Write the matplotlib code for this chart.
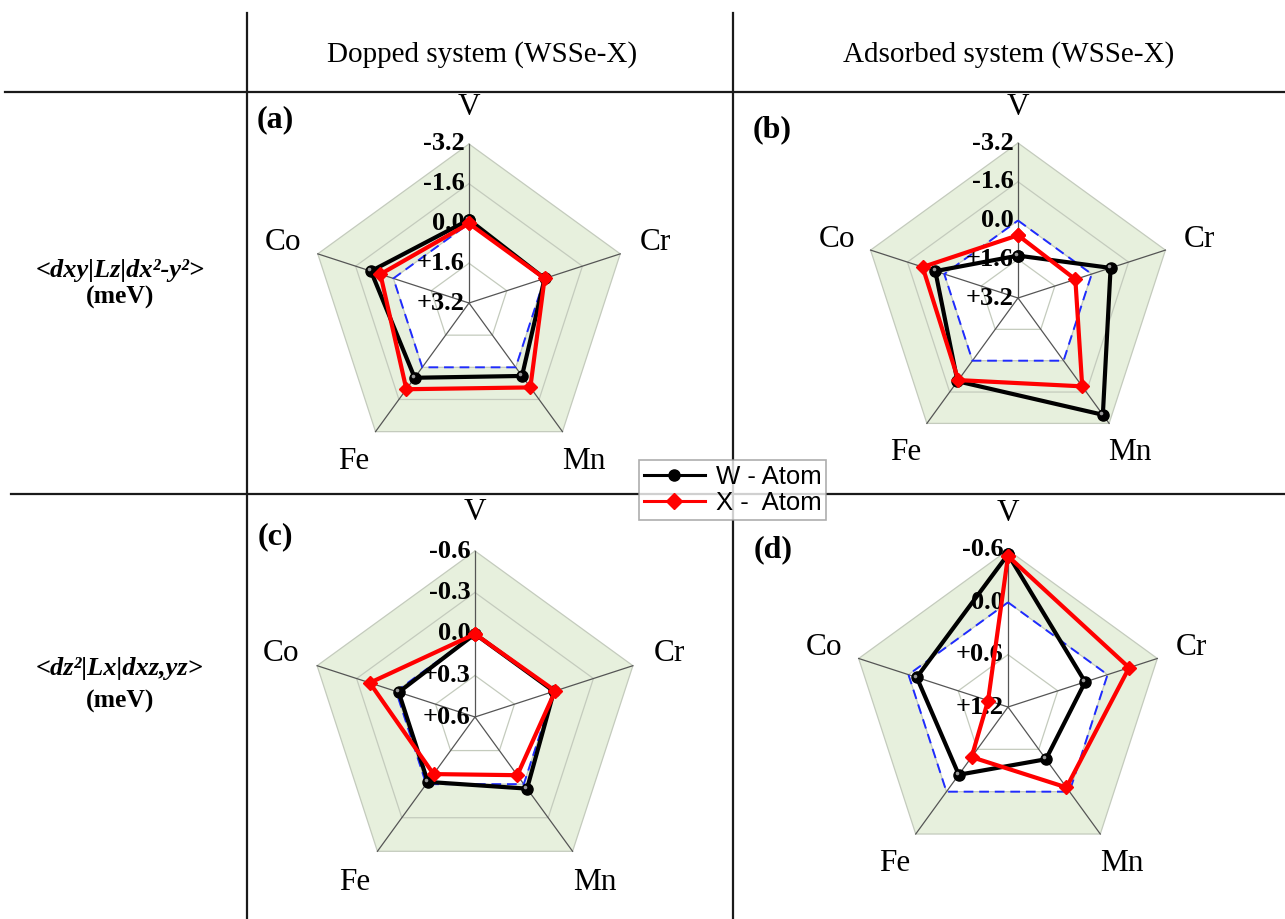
import numpy as np
import matplotlib
matplotlib.use('Agg')
import matplotlib.pyplot as plt
from matplotlib.lines import Line2D
from matplotlib.transforms import ScaledTranslation

plt.rcParams['font.family'] = 'Liberation Serif'

elements = ['V', 'Cr', 'Mn', 'Fe', 'Co']

# <dxy|Lz|dx2-y2> matrix elements (meV)
dop_lz_w = [-0.15, 0.0, -0.43, -0.52, -0.95]
dop_lz_x = [0.0, 0.0, -1.0, -1.09, -0.55]
ads_lz_w = [1.45, -0.82, -2.76, -1.05, -0.39]
ads_lz_x = [0.61, 0.71, -1.31, -0.99, -0.94]

# <dz2|Lx|dxz,yz> matrix elements (meV)
dop_lx_w = [0.0, 0.0, -0.04, 0.02, 0.02]
dop_lx_x = [0.0, -0.01, 0.08, 0.09, -0.20]
ads_lx_w = [-0.55, 0.27, 0.46, 0.24, 0.10]
ads_lx_x = [-0.53, -0.26, 0.06, 0.49, 0.96]

# radial levels, outermost first (axis runs from negative outside to positive at centre)
lz_levels = [-3.2, -1.6, 0.0, 1.6, 3.2]
lx_levels_dop = [-0.6, -0.3, 0.0, 0.3, 0.6]
lx_levels_ads = [-0.6, 0.0, 0.6, 1.2]

W_PX, H_PX = 1285, 919
fig = plt.figure(figsize=(W_PX / 100, H_PX / 100), dpi=100)

GREEN = '#e7f0dd'
RING = '#c4cbbd'


def fmt(v):
    if abs(v) < 1e-9:
        return '0.0'
    return f'{v:+.1f}'


def radar(cx, cy, R, w_vals, x_vals, levels, tag, tag_xy):
    # square polar axes centred on (cx, cy) in pixels, radius R
    ax = fig.add_axes([(cx - R) / W_PX, (H_PX - cy - R) / H_PX, 2 * R / W_PX, 2 * R / H_PX],
                      projection='polar')
    ax.set_theta_zero_location('N')
    ax.set_theta_direction(-1)
    ax.set_ylim(levels[-1], levels[0])
    ax.axis('off')

    th = np.deg2rad(np.arange(len(elements)) * 72.0)
    thc = np.append(th, th[0])
    outer, centre = levels[0], levels[-1]

    # shaded band between the zero ring and the outer ring
    ax.fill(thc, [outer] * len(thc), color=GREEN, lw=0, zorder=0)
    ax.fill(thc, [0.0] * len(thc), color='white', lw=0, zorder=0.5)
    for lv in levels[:-1]:
        ax.plot(thc, [lv] * len(thc), color=RING, lw=0.9, zorder=1, clip_on=False)
    for t in th:
        ax.plot([t, t], [centre, outer], color='#555555', lw=0.9, zorder=1, clip_on=False)
    ax.plot(thc, [0.0] * len(thc), color='#1f2bff', lw=1.4, ls=(0, (5, 3)), zorder=2)

    # radial tick labels along the V spoke
    off = ScaledTranslation(-3 / 72, 0, fig.dpi_scale_trans)
    for lv in levels:
        ax.text(0, lv, fmt(lv), ha='right', va='center', fontsize=19, fontweight='bold',
                transform=ax.transData + off, zorder=2.5)

    wc = list(w_vals) + [w_vals[0]]
    xc = list(x_vals) + [x_vals[0]]
    ax.plot(thc, wc, color='black', lw=3, marker='o', ms=8, zorder=3, clip_on=False)
    # small highlight so the W markers read as spheres
    shine = ScaledTranslation(-1.3 / 72, 1.3 / 72, fig.dpi_scale_trans)
    ax.plot(th, w_vals, ls='none', marker='o', ms=2.6, color='#9a9a9a', mew=0,
            transform=ax.transData + shine, zorder=3.1, clip_on=False)
    ax.plot(thc, xc, color='#ff0000', lw=3, marker='D', ms=7.5, zorder=4, clip_on=False)

    # element names outside the pentagon
    r_lab = outer - 0.23 * (centre - outer)
    for t, name in zip(th, elements):
        ax.text(t, r_lab, name, ha='center', va='center', fontsize=22.5)

    fig.text(tag_xy[0] / W_PX, 1 - tag_xy[1] / H_PX, tag, fontsize=23, fontweight='bold',
             ha='center', va='center')
    return ax


radar(469, 303, 159, dop_lz_w, dop_lz_x, lz_levels, '(a)', (275, 120))
radar(1018, 298, 155, ads_lz_w, ads_lz_x, lz_levels, '(b)', (772, 130))
radar(475, 717, 166, dop_lx_w, dop_lx_x, lx_levels_dop, '(c)', (275, 537))
radar(1008, 707, 157, ads_lx_w, ads_lx_x, lx_levels_ads, '(d)', (773, 550))

# table rules
def rule(x0, y0, x1, y1):
    fig.add_artist(Line2D([x0 / W_PX, x1 / W_PX], [1 - y0 / H_PX, 1 - y1 / H_PX],
                          transform=fig.transFigure, color='#1a1a1a', lw=1.6))

rule(247, 13, 247, H_PX)
rule(733, 13, 733, H_PX)
rule(5, 92, W_PX, 92)
rule(11, 494, W_PX, 494)

# column and row headers
fig.text(482 / W_PX, 1 - 55 / H_PX, 'Dopped system (WSSe-X)', fontsize=21, ha='center', va='center')
fig.text(1009 / W_PX, 1 - 55 / H_PX, 'Adsorbed system (WSSe-X)', fontsize=21, ha='center', va='center')
fig.text(120 / W_PX, 1 - 270 / H_PX, '<dxy|Lz|dx²-y²>', fontsize=19, fontweight='bold',
         fontstyle='italic', ha='center', va='center')
fig.text(120 / W_PX, 1 - 297 / H_PX, '(meV)', fontsize=18.5, fontweight='bold', ha='center', va='center')
fig.text(120 / W_PX, 1 - 669 / H_PX, '<dz²|Lx|dxz,yz>', fontsize=19, fontweight='bold',
         fontstyle='italic', ha='center', va='center')
fig.text(120 / W_PX, 1 - 701 / H_PX, '(meV)', fontsize=18.5, fontweight='bold', ha='center', va='center')

handles = [Line2D([], [], color='black', lw=2.2, marker='o', ms=8),
           Line2D([], [], color='#ff0000', lw=2.2, marker='D', ms=8)]
leg = fig.legend(handles, ['W - Atom', 'X -  Atom'], loc='center',
                 bbox_to_anchor=(732.5 / W_PX, 1 - 490 / H_PX), frameon=True, fancybox=False,
                 prop={'family': 'Liberation Sans', 'size': 18.5}, handlelength=2.4,
                 handletextpad=0.4, borderpad=0.2, borderaxespad=0, labelspacing=0.1,
                 edgecolor='#999999')
leg.get_frame().set_linewidth(1.2)
leg.set_zorder(10)

fig.savefig('out.png', dpi=100, facecolor='white')
